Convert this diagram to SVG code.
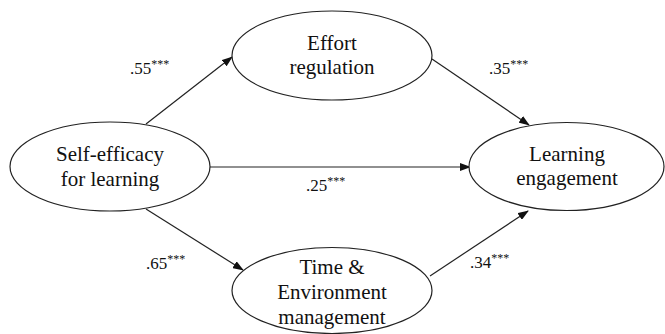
<svg xmlns="http://www.w3.org/2000/svg" width="665" height="334" viewBox="0 0 665 334">
<defs>
<marker id="arr" markerWidth="11" markerHeight="8" refX="10" refY="4" orient="auto" markerUnits="userSpaceOnUse">
<path d="M0,0 L11,4 L0,8 z" fill="#111"/>
</marker>
</defs>
<rect width="665" height="334" fill="#fff"/>
<g id="edges" stroke="#222" stroke-width="1.2" marker-end="url(#arr)">
<line x1="146" y1="124" x2="232" y2="57"/>
<line x1="432" y1="59" x2="529" y2="125"/>
<line x1="210" y1="167" x2="470" y2="167"/>
<line x1="146" y1="209" x2="243" y2="270"/>
<line x1="430" y1="276" x2="528" y2="211"/>
</g>
<g font-family="Liberation Serif, Times New Roman, DejaVu Serif, serif" fill="#111">
<g font-size="21" text-anchor="middle">
<g id="effort">
<ellipse cx="332" cy="55.5" rx="100" ry="44.5" fill="#fff" stroke="#222" stroke-width="1.2"/>
<text x="332" y="50">Effort</text>
<text x="332" y="74">regulation</text>
</g>
<g id="selfefficacy">
<ellipse cx="110" cy="166.5" rx="100" ry="44.5" fill="#fff" stroke="#222" stroke-width="1.2"/>
<text x="110" y="161">Self-efficacy</text>
<text x="110" y="186">for learning</text>
</g>
<g id="engagement">
<ellipse cx="566.5" cy="166.5" rx="97.5" ry="44" fill="#fff" stroke="#222" stroke-width="1.2"/>
<text x="567" y="161">Learning</text>
<text x="567" y="185">engagement</text>
</g>
<g id="time">
<ellipse cx="332" cy="290.5" rx="100" ry="43" fill="#fff" stroke="#222" stroke-width="1.2"/>
<text x="332" y="274">Time &amp;</text>
<text x="332" y="299">Environment</text>
<text x="332" y="324">management</text>
</g>
</g>
<g id="labels" font-size="17">
<text x="130" y="74">.55<tspan font-size="12" dy="-6">***</tspan></text>
<text x="489" y="74">.35<tspan font-size="12" dy="-6">***</tspan></text>
<text x="306" y="191">.25<tspan font-size="12" dy="-6">***</tspan></text>
<text x="146" y="269">.65<tspan font-size="12" dy="-6">***</tspan></text>
<text x="470" y="268">.34<tspan font-size="12" dy="-6">***</tspan></text>
</g>
</g>
</svg>
